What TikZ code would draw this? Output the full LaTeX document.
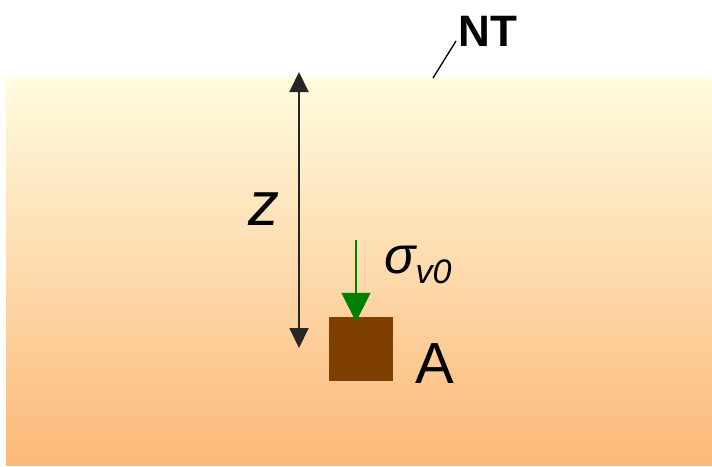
\documentclass[tikz,border=0pt]{standalone}
\usepackage{fontspec}
\setmainfont{Liberation Sans}
\usetikzlibrary{arrows.meta}
\definecolor{groundtop}{RGB}{255,252,224}
\definecolor{groundbot}{RGB}{252,184,120}
\definecolor{soilbox}{RGB}{127,63,0}
\definecolor{loadgreen}{RGB}{0,128,0}
\tikzset{
  lbl/.style={inner sep=0pt, anchor=center},
  dimarrow/.style={draw=black!85, line width=2pt, {Triangle[length=20pt,width=19pt]}-{Triangle[length=20pt,width=19pt]}},
  loadarrow/.style={draw=loadgreen, line width=1.8pt, -{Triangle[length=29pt,width=29pt]}},
}
\begin{document}
\begin{tikzpicture}[x=1pt,y=-1pt]
\useasboundingbox (0,0) rectangle (712,466);
\shade[top color=groundtop, bottom color=groundbot] (6,77) rectangle (712,465);
% NT label and leader
\node[lbl, font=\fontsize{44}{44}\selectfont\bfseries] (nt) at (488,31) {NT};
\coordinate (ntfoot) at (433,78);
\coordinate (nttop) at (456,41);
\draw[line width=1.3pt] (ntfoot) -- (nttop);
% depth arrow
\coordinate (ztop) at (299,72);
\coordinate (zbot) at (299,348);
\draw[dimarrow] (ztop) -- (zbot);
\node[lbl, font=\fontsize{62}{62}\selectfont\itshape] (z) at (264,209) {z};
% soil element
\node[draw=none, fill=soilbox, minimum width=64pt, minimum height=64pt, inner sep=0pt] (box) at (361,349) {};
\node[lbl, font=\fontsize{58}{58}\selectfont] (A) at (435,364) {A};
% vertical stress
\coordinate (load) at (356,240);
\draw[loadarrow] (load) -- ([yshift=-5pt]box.north -| load);
\node[lbl, anchor=west, font=\fontsize{52}{52}\selectfont\itshape] (sigma) at (384,265) {σ\raisebox{-0.35ex}{\fontsize{34}{34}\selectfont v0}};
\end{tikzpicture}
\end{document}
